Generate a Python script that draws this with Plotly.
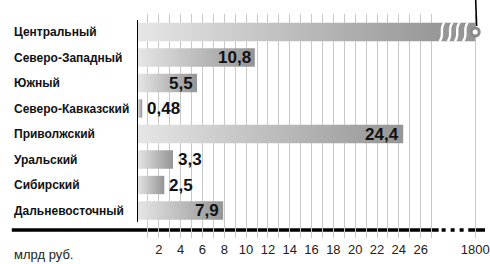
import plotly.graph_objects as go

# ---- data ----
regions = ["Центральный", "Северо-Западный", "Южный", "Северо-Кавказский",
           "Приволжский", "Уральский", "Сибирский", "Дальневосточный"]
values = [1800, 10.8, 5.5, 0.48, 24.4, 3.3, 2.5, 7.9]
show_label = [False, True, True, True, True, True, True, True]
inside_label = [False, True, True, False, True, False, False, True]
grid_vals = list(range(1, 28)) + [1800]
tick_text_vals = [2, 4, 6, 8, 10, 12, 14, 16, 18, 20, 22, 24, 26, 1800]
unit_label = "млрд руб."

# ---- broken-axis mapping ----
BREAK_MAX = 27
BREAK_POS = 31  # axis position used for values beyond the break


def pos(v):
    return v if v <= BREAK_MAX else BREAK_POS


def fmt(v):
    return ("%g" % v).replace(".", ",")


SANS = "Liberation Sans, Arial, Helvetica, sans-serif"

W, H = 490, 264
L, R, T, B = 137, 0, 14, 26
PW, PH = W - L - R, H - T - B


def px_x(p):
    return (p - L) / PW


def px_y(p):
    return (H - B - p) / PH


fig = go.Figure()
h = 0.36
for i, (name, v) in enumerate(zip(regions, values)):
    p = pos(v)
    grad = dict(type="horizontal", colorscale=[[0, "#e6e6e6"], [1, "#959595"]])
    if v > BREAK_MAX:
        grad["start"] = 0
        grad["stop"] = 28
    fig.add_trace(go.Scatter(
        x=[0, p, p, 0, 0], y=[i - h, i - h, i + h, i + h, i - h],
        fill="toself", mode="lines", line=dict(width=0),
        fillgradient=grad, hoverinfo="skip", showlegend=False))
    if show_label[i]:
        fig.add_annotation(
            x=p, y=i, xref="x", yref="y", text=fmt(v), showarrow=False,
            xanchor="right" if inside_label[i] else "left",
            xshift=-2 if inside_label[i] else 3,
            font=dict(family=SANS, size=17, color="#111", weight=700))
    fig.add_annotation(
        x=px_x(10), y=i, xref="paper", yref="y", text=name, showarrow=False,
        xanchor="left", yanchor="middle",
        font=dict(family=SANS, size=12, color="#111", weight=700))

# break marks (white waves) on the long bar
shapes = []
for xc in [27.95, 28.7, 29.35, 30.1]:
    yb, yt = h, -h
    d = (f"M {xc-0.22},{yb} C {xc+0.3},{yb-0.25} {xc-0.3},{yt+0.25} {xc+0.22},{yt}")
    shapes.append(dict(type="path", path=d, xref="x", yref="y",
                       line=dict(color="white", width=2.4), layer="above"))

# end circle of the long bar
fig.add_trace(go.Scatter(
    x=[BREAK_POS], y=[0], mode="markers", hoverinfo="skip", showlegend=False,
    marker=dict(symbol="circle", size=8, color="white",
                line=dict(color="#8a8a8a", width=3))))

# pointer line from circle upward
shapes.append(dict(type="line", xref="paper", yref="paper",
                   x0=px_x(481.5), y0=px_y(26), x1=px_x(480.5), y1=px_y(-2),
                   line=dict(color="black", width=1.6), layer="above"))

# vertical axis line
shapes.append(dict(type="line", xref="x", yref="y", x0=0, x1=0, y0=-0.47, y1=7.45,
                   line=dict(color="black", width=2), layer="above"))

# bottom thick line (below gridlines)
yb_line = px_y(230)
shapes.append(dict(type="line", xref="paper", yref="paper",
                   x0=px_x(10), x1=px_x(443), y0=yb_line, y1=yb_line,
                   line=dict(color="black", width=3.5), layer="below"))
shapes.append(dict(type="line", xref="paper", yref="paper",
                   x0=px_x(446), x1=px_x(470), y0=yb_line, y1=yb_line,
                   line=dict(color="black", width=3.5, dash="4px,5px"), layer="below"))
shapes.append(dict(type="line", xref="paper", yref="paper",
                   x0=px_x(473), x1=px_x(490), y0=yb_line, y1=yb_line,
                   line=dict(color="black", width=3.5), layer="below"))

fig.add_annotation(x=px_x(10), y=px_y(254), xref="paper", yref="paper",
                   text=unit_label, showarrow=False, xanchor="left", yanchor="middle",
                   font=dict(family=SANS, size=13, color="#222"))

tickvals = [pos(v) for v in grid_vals]
ticktext = [fmt(v) if v in tick_text_vals else "" for v in grid_vals]

y_top = (T - 32) / 25.5
y_bot = (H - B - 32) / 25.5

fig.update_layout(
    width=W, height=H, margin=dict(l=L, r=R, t=T, b=B),
    paper_bgcolor="white", plot_bgcolor="rgba(0,0,0,0)",
    shapes=shapes,
    xaxis=dict(range=[0, PW / 11.066], tickmode="array", tickvals=tickvals,
               ticktext=ticktext, showgrid=True, gridcolor="#c9c9c9", gridwidth=1.4,
               zeroline=False, showline=False, ticks="",
               tickfont=dict(family=SANS, size=13, color="#222"),
               ticklabelstandoff=2, ticklabeloverflow="allow"),
    yaxis=dict(range=[y_bot, y_top], showgrid=False, zeroline=False,
               showticklabels=False, showline=False, ticks=""),
)

fig.write_html("out.html", config={"displayModeBar": False},
               post_script="document.body.style.margin='0';")
